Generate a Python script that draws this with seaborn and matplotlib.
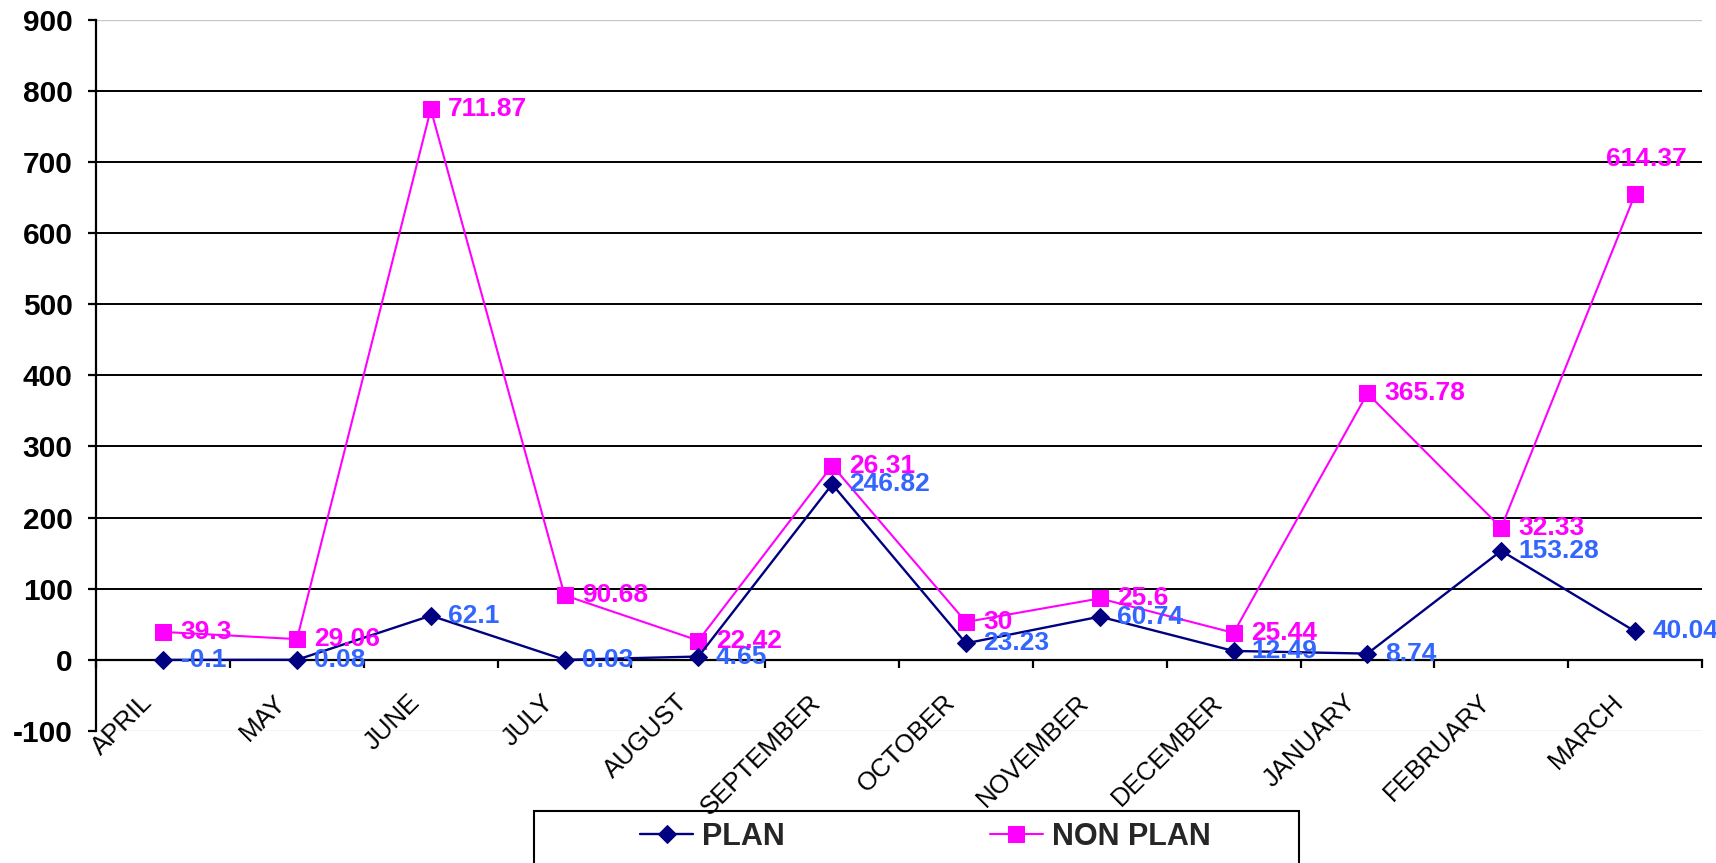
import numpy as np
import pandas as pd
import matplotlib
matplotlib.use("Agg")
import matplotlib.pyplot as plt
import matplotlib.patches as mpatches
from matplotlib.transforms import ScaledTranslation
import seaborn as sns

months = ['APRIL', 'MAY', 'JUNE', 'JULY', 'AUGUST', 'SEPTEMBER', 'OCTOBER',
          'NOVEMBER', 'DECEMBER', 'JANUARY', 'FEBRUARY', 'MARCH']
plan = [-0.1, 0.08, 62.1, 0.03, 4.65, 246.82, 23.23, 60.74, 12.49, 8.74, 153.28, 40.04]
non_plan = [39.3, 29.06, 711.87, 90.68, 22.42, 26.31, 30, 25.6, 25.44, 365.78, 32.33, 614.37]
y_ticks = list(range(-100, 1000, 100))

# stacked line chart: NON PLAN drawn on top of PLAN
stacked = [p + n for p, n in zip(plan, non_plan)]

sns.set_theme(style="white")
plt.rcParams['font.family'] = ['Liberation Sans', 'DejaVu Sans']

NAVY = '#000080'
MAG = '#FF00FF'
BLUE = '#3366FF'

fig = plt.figure(figsize=(17.16, 8.63), dpi=100)
ax = fig.add_axes([0.0561, 0.1530, 0.9357, 0.8242])

x = np.arange(len(months))
sns.lineplot(x=x, y=plan, ax=ax, color=NAVY, lw=1.7, marker='D', ms=9,
             mec=NAVY, mfc=NAVY, label='PLAN', sort=False, zorder=4)
sns.lineplot(x=x, y=stacked, ax=ax, color=MAG, lw=1.5, marker='s', ms=11.5,
             mec=MAG, mfc=MAG, label='NON PLAN', sort=False, zorder=3)

LBL = 19
# data labels
for i, v in enumerate(plan):
    ax.annotate(f"{v:g}", (x[i], v), xytext=(12.5, 0), textcoords='offset points',
                ha='left', va='center', color=BLUE, fontsize=LBL, fontweight='bold', zorder=6)
for i, (v, s) in enumerate(zip(non_plan, stacked)):
    if i == len(months) - 1:
        off, ha = (8.3, 25.7), 'center'
    else:
        off, ha = (12.5, 0), 'left'
    ax.annotate(f"{v:g}", (x[i], s), xytext=off, textcoords='offset points',
                ha=ha, va='center', color=MAG, fontsize=LBL, fontweight='bold', zorder=6)

# axes
ax.set_xlim(-0.5, len(months) - 0.5)
ax.set_ylim(-100, 900)
ax.spines['bottom'].set_position(('data', 0))
ax.spines['top'].set_visible(False)
ax.spines['right'].set_visible(False)
for sp in ('left', 'bottom'):
    ax.spines[sp].set_color('black')
    ax.spines[sp].set_linewidth(1.6)

ax.tick_params(axis='x', which='major', length=0, pad=31.5, colors='black')
ax.tick_params(axis='x', which='minor', length=5.5, width=1.6, direction='out',
               color='black', bottom=True)
ax.tick_params(axis='y', which='major', length=6, width=1.6, direction='out',
               pad=11, left=True, colors='black')

ax.set_yticks(y_ticks)
ax.set_yticklabels([str(t) for t in y_ticks])
ax.set_xticks(x)
ax.set_xticklabels(months)
ax.set_xticks(np.arange(-0.5, len(months), 1), minor=True)

for lab in ax.get_yticklabels():
    lab.set_fontsize(21.5)
    lab.set_fontweight('bold')

off = ScaledTranslation(-0.10, 0, fig.dpi_scale_trans)
for lab in ax.get_xticklabels():
    lab.set_rotation(45)
    lab.set_rotation_mode('anchor')
    lab.set_horizontalalignment('right')
    lab.set_verticalalignment('baseline')
    lab.set_fontsize(18.5)
    lab.set_transform(lab.get_transform() + off)

ax.grid(True, axis='y', color='black', lw=1.4)
ax.set_axisbelow(True)
gls = ax.yaxis.get_gridlines()
for g in (gls[0], gls[-1]):
    g.set_color('#c8c8c8')
    g.set_linewidth(1.0)
ax.set_xlabel('')
ax.set_ylabel('')

# legend
handles, labels = ax.get_legend_handles_labels()
ax.get_legend().remove()
fig.legend(handles, labels, loc='center left', bbox_to_anchor=(640 / 1716, 1 - 837 / 863),
           ncol=2, frameon=False, borderpad=0, borderaxespad=0,
           handlelength=1.75, handletextpad=0.28, columnspacing=6.7,
           prop={'size': 22, 'weight': 'bold'})
fig.add_artist(mpatches.Rectangle((534 / 1716, -0.02), (1299 - 534) / 1716,
                                  (863 - 811) / 863 + 0.02, transform=fig.transFigure,
                                  fill=False, ec='black', lw=1.5))

fig.savefig('out.png', dpi=100, facecolor='white')
